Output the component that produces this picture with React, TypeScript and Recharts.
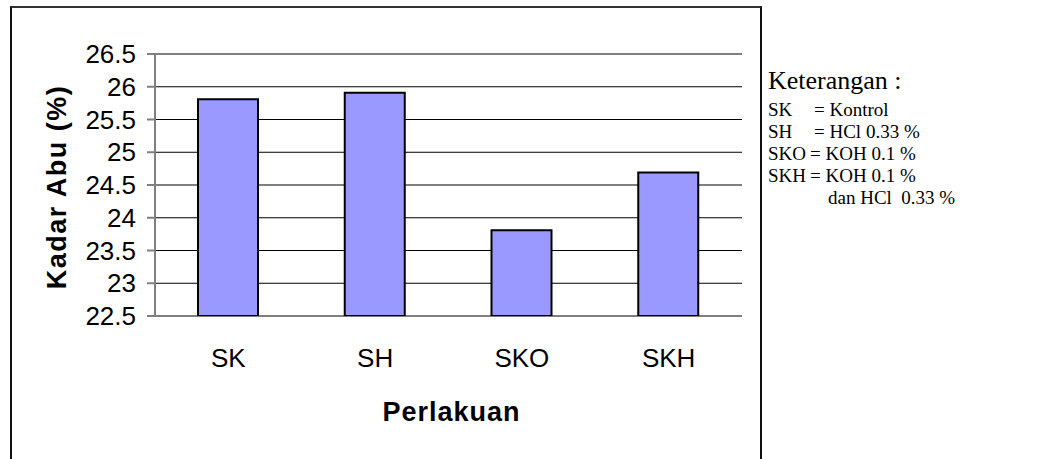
import React from "react";
import { BarChart, Bar, XAxis, YAxis, CartesianGrid, Label } from "recharts";

const categories = ["SK", "SH", "SKO", "SKH"];
const kadarAbu = [25.81, 25.91, 23.81, 24.69];
const yTicks = [22.5, 23, 23.5, 24, 24.5, 25, 25.5, 26, 26.5];
const edgeTicks = [0, 1, 2, 3, 4];
const legendTitle = "Keterangan :";
const legendCodes = ["SK", "SH", "SKO", "SKH"];
const legendDescs = ["= Kontrol", "= HCl 0.33 %", "= KOH 0.1 %", "= KOH 0.1 %"];
const legendExtra = "dan HCl  0.33 %";

const data = categories.map((c, i) => ({ name: c, value: kadarAbu[i], pos: i + 0.5 }));

const SANS = "'Liberation Sans', Arial, sans-serif";
const SERIF = "'Liberation Serif', 'Times New Roman', serif";

const YLabel = (props: any) => {
  const vb = props.viewBox || {};
  const cx = 57;
  const cy = (vb.y ?? 0) + (vb.height ?? 0) / 2 + 2;
  return (
    <text
      x={cx}
      y={cy}
      transform={`rotate(-90 ${cx} ${cy})`}
      textAnchor="middle"
      dominantBaseline="central"
      fontFamily={SANS}
      fontWeight="bold"
      fontSize={27}
      letterSpacing={1.5}
      fill="#000"
    >
      Kadar Abu (%)
    </text>
  );
};

const XLabel = (props: any) => {
  const vb = props.viewBox || {};
  const cx = (vb.x ?? 0) + (vb.width ?? 0) / 2 + 3;
  return (
    <text
      x={cx}
      y={421}
      textAnchor="middle"
      fontFamily={SANS}
      fontWeight="bold"
      fontSize={27}
      letterSpacing={1}
      fill="#000"
    >
      Perlakuan
    </text>
  );
};

export default function App() {
  return (
    <div style={{ position: "absolute", left: 0, top: 0, width: 1061, height: 459, background: "#fff", overflow: "hidden" }}>
      <div
        style={{
          position: "absolute",
          left: 10,
          top: 6,
          width: 748,
          height: 460,
          borderLeft: "2px solid #111",
          borderTop: "2px solid #333",
          borderRight: "2px solid #111",
        }}
      />
      <div style={{ position: "absolute", left: 0, top: 0 }}>
        <BarChart
          width={1061}
          height={459}
          data={data}
          margin={{ top: 54, right: 319, bottom: 0, left: 0 }}
        >
          <CartesianGrid vertical={false} stroke="#000" strokeWidth={1} />
          <XAxis
            xAxisId="edge"
            dataKey="pos"
            type="number"
            domain={[0, 4]}
            ticks={edgeTicks}
            tick={false}
            tickSize={9}
            height={0}
            stroke="#808080"
            tickLine={{ stroke: "#808080", strokeWidth: 2 }}
            axisLine={{ stroke: "#808080", strokeWidth: 2 }}
          />
          <XAxis
            xAxisId="cat"
            dataKey="name"
            height={143}
            tickLine={false}
            axisLine={false}
            tickMargin={27}
            tick={{ fill: "#000", fontSize: 26, fontFamily: SANS }}
          >
            <Label content={<XLabel />} />
          </XAxis>
          <YAxis
            domain={[22.5, 26.5]}
            ticks={yTicks}
            interval={0}
            width={155}
            tickSize={8}
            tickMargin={11}
            stroke="#808080"
            tickLine={{ stroke: "#808080", strokeWidth: 2 }}
            axisLine={{ stroke: "#808080", strokeWidth: 2 }}
            tick={{ fill: "#000", fontSize: 26, fontFamily: SANS }}
            allowDataOverflow
          >
            <Label content={<YLabel />} />
          </YAxis>
          <Bar
            xAxisId="cat"
            dataKey="value"
            fill="#9999FF"
            stroke="#000"
            strokeWidth={2}
            barSize={60}
            isAnimationActive={false}
          />
        </BarChart>
      </div>
      <div style={{ position: "absolute", left: 768, top: 66, fontFamily: SERIF, color: "#000", whiteSpace: "pre" }}>
        <div style={{ fontSize: 26, lineHeight: "30px", marginBottom: 3 }}>{legendTitle}</div>
        {legendCodes.map((c, i) => (
          <div key={c} style={{ position: "relative", fontSize: 19, height: 22, lineHeight: "22px" }}>
            <span>{c}</span>
            <span style={{ position: "absolute", left: i < 2 ? 46 : 42, top: 0 }}>{legendDescs[i]}</span>
          </div>
        ))}
        <div style={{ fontSize: 19, lineHeight: "22px", paddingLeft: 60 }}>{legendExtra}</div>
      </div>
    </div>
  );
}
